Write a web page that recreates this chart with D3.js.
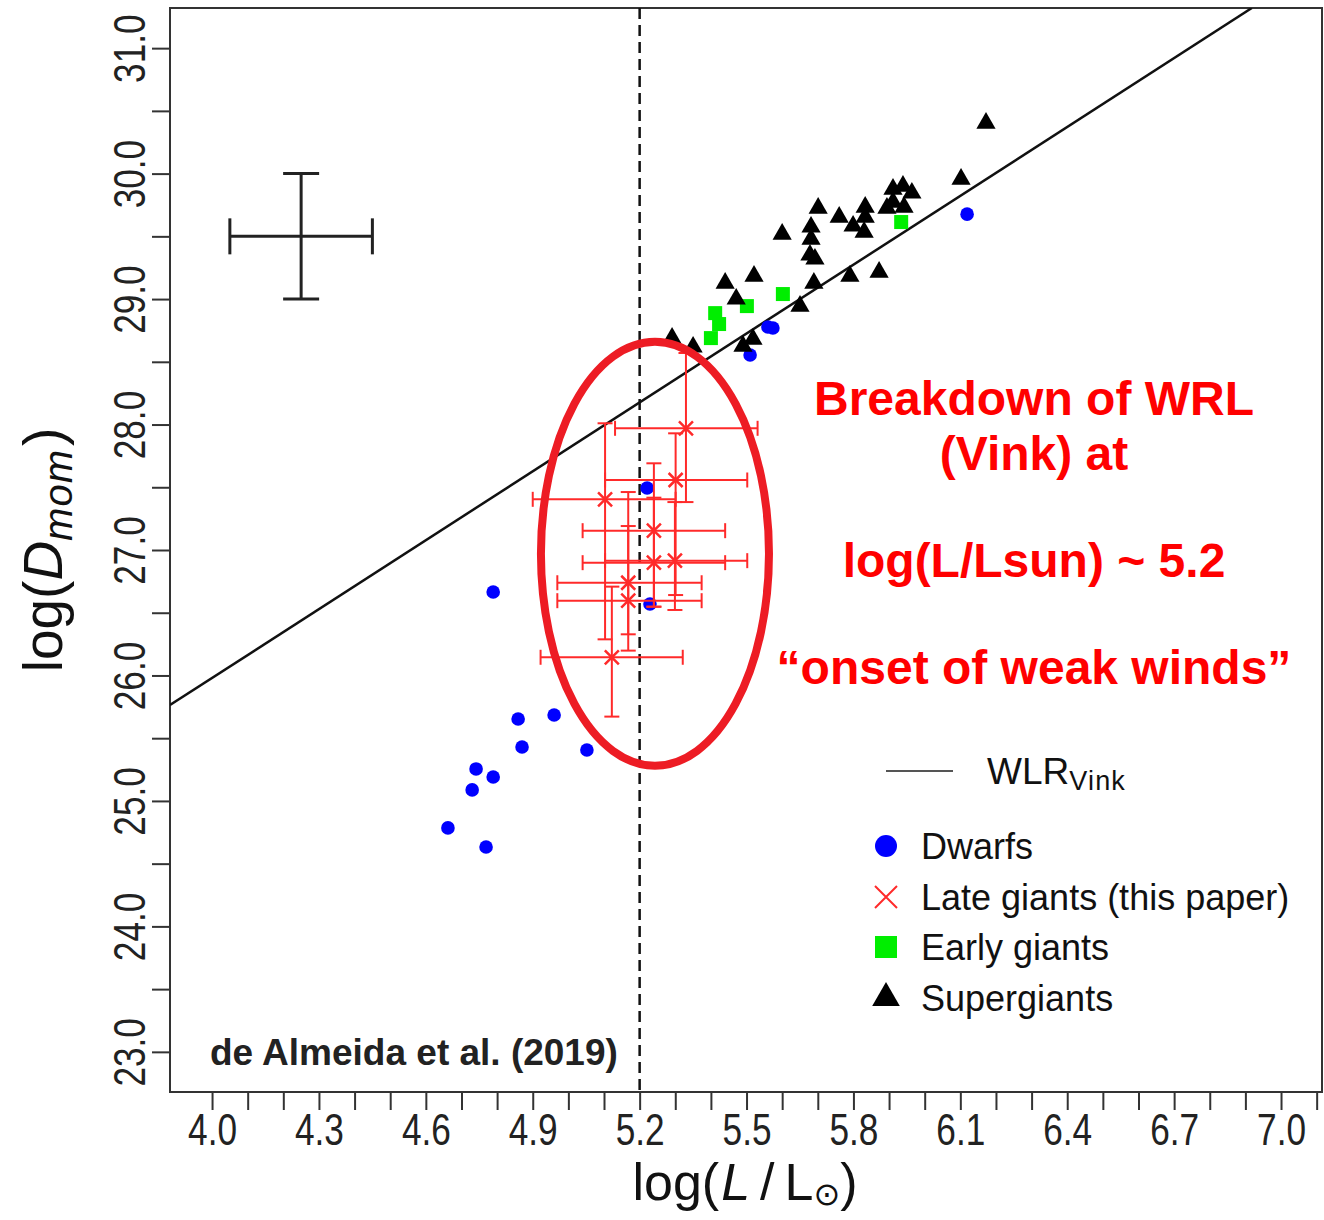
<!DOCTYPE html>
<html>
<head>
<meta charset="utf-8">
<script src="https://cdn.jsdelivr.net/npm/d3@7"></script>
<style>
  body { margin: 0; background: #fff; }
  svg { display: block; font-family: "Liberation Sans", Arial, sans-serif; }
</style>
</head>
<body>
<div id="chart"></div>
<script>
// Dwarfs (blue dots)
const dwarfsL = [4.662, 4.769, 4.730, 4.741, 4.789, 4.870, 4.859, 4.960, 5.052, 4.789, 5.221, 5.229, 5.510, 5.560, 5.574, 6.119];
const dwarfsD = [24.785, 24.633, 25.088, 25.255, 25.191, 25.430, 25.653, 25.685, 25.406, 26.665, 27.494, 26.570, 28.554, 28.777, 28.769, 29.677];

// Early giants (green squares)
const earlyL = [5.412, 5.423, 5.400, 5.501, 5.602, 5.934];
const earlyD = [28.888, 28.801, 28.689, 28.944, 29.040, 29.614];

// Supergiants (black triangles)
const superL = [6.172, 6.102, 5.911, 5.939, 5.964, 5.894, 5.911, 5.942, 5.833, 5.833, 5.799, 5.830, 5.760, 5.701, 5.681,
                5.681, 5.678, 5.692, 5.600, 5.689, 5.790, 5.872, 5.521, 5.440, 5.471, 5.650, 5.518, 5.490, 5.291, 5.350];
const superD = [30.402, 29.956, 29.876, 29.900, 29.845, 29.725, 29.773, 29.733, 29.733, 29.653, 29.582, 29.534, 29.653, 29.725, 29.574,
                29.478, 29.351, 29.319, 29.518, 29.127, 29.183, 29.215, 29.183, 29.127, 29.000, 28.944, 28.681, 28.625, 28.689, 28.618];

// Late giants (this paper), with error bars
const lateL   = [5.330, 5.301, 5.103, 5.240, 5.240, 5.299, 5.168, 5.168, 5.122];
const lateD   = [27.970, 27.558, 27.404, 27.154, 26.899, 26.915, 26.739, 26.596, 26.145];
const lateLlo = [5.131, 5.103, 4.900, 5.040, 5.040, 5.103, 4.969, 4.969, 4.922];
const lateLhi = [5.531, 5.502, 5.301, 5.440, 5.440, 5.502, 5.374, 5.374, 5.321];
const lateDlo = [27.382, 26.641, 26.288, 26.548, 26.548, 26.522, 26.328, 26.198, 25.672];
const lateDhi = [28.570, 27.930, 28.010, 27.691, 27.417, 27.382, 27.462, 27.191, 26.708];

// typical error bar (top left)
const typCenter = [4.25, 29.5];
const typL = [4.05, 4.45];
const typD = [29.0, 30.0];

// WLR (Vink): log Dmom = slope * log L + intercept
const wlrSlope = 1.83;
const wlrIntercept = 18.66;
const breakL = 5.2;

// ticks
const xTicks = d3.range(40, 72).map(v => v / 10);
const xLabels = ["4.0", "4.3", "4.6", "4.9", "5.2", "5.5", "5.8", "6.1", "6.4", "6.7", "7.0"];
const yTicks = d3.range(46, 63).map(v => v / 2);
const yLabels = ["23.0", "24.0", "25.0", "26.0", "27.0", "28.0", "29.0", "30.0", "31.0"];

const legendLabels = ["Dwarfs", "Late giants (this paper)", "Early giants", "Supergiants"];
const noteLines = ["Breakdown of WRL", "(Vink) at", "log(L/Lsun) ~ 5.2", "\u201Conset of weak winds\u201D"];

// ---- setup ----
const width = 1324, height = 1220;
const plot = { left: 170, top: 8, right: 1322, bottom: 1092 };

const svg = d3.select('#chart').append('svg')
  .attr('width', width)
  .attr('height', height);

svg.append('rect').attr('width', width).attr('height', height).attr('fill', '#fff');

const x = d3.scaleLinear().domain([3.882, 7.115]).range([plot.left, plot.right]);
const y = d3.scaleLinear().domain([22.68, 31.32]).range([plot.bottom, plot.top]);

svg.append('clipPath').attr('id', 'clip')
  .append('rect')
  .attr('x', plot.left).attr('y', plot.top)
  .attr('width', plot.right - plot.left).attr('height', plot.bottom - plot.top);

// axes
const xAxis = d3.axisBottom(x)
  .tickValues(xTicks)
  .tickSize(18)
  .tickFormat(d => {
    const s = d.toFixed(1);
    return xLabels.includes(s) ? s : '';
  });

const gx = svg.append('g')
  .attr('transform', `translate(0,${plot.bottom})`)
  .call(xAxis);
gx.select('.domain').remove();
gx.selectAll('line').attr('stroke', '#333').attr('stroke-width', 2);
gx.selectAll('text')
  .attr('y', 53).attr('dy', null)
  .attr('transform', 'scale(0.8,1)')
  .attr('font-size', 44)
  .attr('font-family', '"Liberation Sans", Arial, sans-serif')
  .attr('fill', '#222');

const yAxis = d3.axisLeft(y)
  .tickValues(yTicks)
  .tickSize(18)
  .tickFormat(d => {
    const s = d.toFixed(1);
    return yLabels.includes(s) ? s : '';
  });

const gy = svg.append('g')
  .attr('transform', `translate(${plot.left},0)`)
  .call(yAxis);
gy.select('.domain').remove();
gy.selectAll('line').attr('stroke', '#333').attr('stroke-width', 2);
gy.selectAll('text')
  .attr('x', 0).attr('y', -25).attr('dy', null)
  .attr('text-anchor', 'middle')
  .attr('transform', 'rotate(-90) scale(0.8,1)')
  .attr('font-size', 44)
  .attr('font-family', '"Liberation Sans", Arial, sans-serif')
  .attr('fill', '#222');

// plot box
svg.append('rect')
  .attr('x', plot.left).attr('y', plot.top)
  .attr('width', plot.right - plot.left).attr('height', plot.bottom - plot.top)
  .attr('fill', 'none').attr('stroke', '#333').attr('stroke-width', 2);

// axis titles
const xt = svg.append('text')
  .attr('x', 745).attr('y', 1200)
  .attr('text-anchor', 'middle')
  .attr('font-size', 52)
  .attr('fill', '#111');
xt.append('tspan').text('log(');
xt.append('tspan').attr('font-style', 'italic').attr('dx', 2).text('L');
xt.append('tspan').attr('dx', 10).text('/');
xt.append('tspan').attr('dx', 10).text('L');
xt.append('tspan').attr('font-size', 32).attr('dy', 5).attr('font-family', '"DejaVu Sans", sans-serif').text('\u2299');
xt.append('tspan').attr('dy', -5).text(')');

const yt = svg.append('text')
  .attr('transform', 'translate(62,550) rotate(-90)')
  .attr('text-anchor', 'middle')
  .attr('font-size', 55)
  .attr('fill', '#111');
yt.append('tspan').text('log(');
yt.append('tspan').attr('font-style', 'italic').text('D');
yt.append('tspan').attr('font-style', 'italic').attr('font-size', 40).attr('dy', 10).attr('letter-spacing', 1).text('mom');
yt.append('tspan').attr('dy', -10).attr('dx', 3).text(')');

const g = svg.append('g').attr('clip-path', 'url(#clip)');

// vertical dashed line at log L = 5.2
g.append('line')
  .attr('x1', x(breakL)).attr('x2', x(breakL))
  .attr('y1', plot.top).attr('y2', plot.bottom)
  .attr('stroke', '#111').attr('stroke-width', 2.5)
  .attr('stroke-dasharray', '11,6');

// WLR line
const wlrEnd = (y.domain()[1] - wlrIntercept) / wlrSlope;
g.append('path')
  .datum([x.domain()[0], wlrEnd])
  .attr('d', d3.line().x(d => x(d)).y(d => y(wlrSlope * d + wlrIntercept)))
  .attr('fill', 'none').attr('stroke', '#111').attr('stroke-width', 2.5);

// typical error bar
const typ = g.append('g').attr('stroke', '#222').attr('stroke-width', 3);
typ.append('line').attr('x1', x(typL[0])).attr('x2', x(typL[1])).attr('y1', y(typCenter[1])).attr('y2', y(typCenter[1]));
typ.append('line').attr('x1', x(typCenter[0])).attr('x2', x(typCenter[0])).attr('y1', y(typD[0])).attr('y2', y(typD[1]));
typL.forEach(v => typ.append('line').attr('x1', x(v)).attr('x2', x(v)).attr('y1', y(typCenter[1]) - 18).attr('y2', y(typCenter[1]) + 18));
typD.forEach(v => typ.append('line').attr('x1', x(typCenter[0]) - 18).attr('x2', x(typCenter[0]) + 18).attr('y1', y(v)).attr('y2', y(v)));

// dwarfs
g.selectAll('.dwarf')
  .data(dwarfsL.map((l, i) => [l, dwarfsD[i]]))
  .enter().append('circle')
  .attr('cx', d => x(d[0])).attr('cy', d => y(d[1]))
  .attr('r', 6.8).attr('fill', '#0000ff');

// early giants
const sq = 14;
g.selectAll('.early')
  .data(earlyL.map((l, i) => [l, earlyD[i]]))
  .enter().append('rect')
  .attr('x', d => x(d[0]) - sq / 2).attr('y', d => y(d[1]) - sq / 2)
  .attr('width', sq).attr('height', sq)
  .attr('fill', '#00ee00');

// supergiants
const tri = d3.symbol().type(d3.symbolTriangle).size(160);
g.selectAll('.super')
  .data(superL.map((l, i) => [l, superD[i]]))
  .enter().append('path')
  .attr('d', tri)
  .attr('transform', d => `translate(${x(d[0])},${y(d[1])})`)
  .attr('fill', '#000');

// late giants with error bars
const lateData = lateL.map((l, i) => ({ l, d: lateD[i], l0: lateLlo[i], l1: lateLhi[i], d0: lateDlo[i], d1: lateDhi[i] }));
const cap = 7.5;
const late = g.append('g').attr('stroke', '#ff2a2a').attr('stroke-width', 2).attr('fill', 'none');
lateData.forEach(p => {
  const cx = x(p.l), cy = y(p.d);
  late.append('line').attr('x1', x(p.l0)).attr('x2', x(p.l1)).attr('y1', cy).attr('y2', cy);
  late.append('line').attr('x1', x(p.l0)).attr('x2', x(p.l0)).attr('y1', cy - cap).attr('y2', cy + cap);
  late.append('line').attr('x1', x(p.l1)).attr('x2', x(p.l1)).attr('y1', cy - cap).attr('y2', cy + cap);
  late.append('line').attr('x1', cx).attr('x2', cx).attr('y1', y(p.d0)).attr('y2', y(p.d1));
  late.append('line').attr('x1', cx - cap).attr('x2', cx + cap).attr('y1', y(p.d0)).attr('y2', y(p.d0));
  late.append('line').attr('x1', cx - cap).attr('x2', cx + cap).attr('y1', y(p.d1)).attr('y2', y(p.d1));
  late.append('path')
    .attr('d', `M${cx - 7},${cy - 7}L${cx + 7},${cy + 7}M${cx - 7},${cy + 7}L${cx + 7},${cy - 7}`)
    .attr('stroke-width', 2.5);
});

// red ellipse annotation
g.append('ellipse')
  .attr('cx', x(5.243)).attr('cy', y(26.97))
  .attr('rx', x(5.243 + 0.32) - x(5.243))
  .attr('ry', y(26.97) - y(26.97 + 1.69))
  .attr('fill', 'none').attr('stroke', '#ed1c24').attr('stroke-width', 8);

// annotation text
const noteY = [415, 470, 577, 684];
svg.selectAll('.note')
  .data(noteLines)
  .enter().append('text')
  .attr('x', 1034).attr('y', (d, i) => noteY[i])
  .attr('text-anchor', 'middle')
  .attr('font-size', 48).attr('font-weight', 'bold')
  .attr('fill', '#ff0000')
  .text(d => d);

svg.append('text')
  .attr('x', 210).attr('y', 1065)
  .attr('font-size', 37).attr('font-weight', 'bold')
  .attr('fill', '#222')
  .text('de Almeida et al. (2019)');

// legend
const lg = svg.append('g');
lg.append('line').attr('x1', 886).attr('x2', 953).attr('y1', 771).attr('y2', 771)
  .attr('stroke', '#555').attr('stroke-width', 2);
const wl = lg.append('text').attr('x', 987).attr('y', 784).attr('font-size', 37).attr('fill', '#111');
wl.append('tspan').text('WLR');
wl.append('tspan').attr('font-size', 27).attr('dy', 6).attr('letter-spacing', 1.2).text('Vink');

const rowY = [846, 897, 947, 998];
const mx = 886;
lg.append('circle').attr('cx', mx).attr('cy', rowY[0]).attr('r', 11).attr('fill', '#0000ff');
lg.append('path')
  .attr('d', `M${mx - 11},${rowY[1] - 11}L${mx + 11},${rowY[1] + 11}M${mx - 11},${rowY[1] + 11}L${mx + 11},${rowY[1] - 11}`)
  .attr('stroke', '#ff2a2a').attr('stroke-width', 2);
lg.append('rect').attr('x', mx - 11).attr('y', rowY[2] - 11).attr('width', 22).attr('height', 22).attr('fill', '#00ee00');
lg.append('path').attr('d', d3.symbol().type(d3.symbolTriangle).size(330))
  .attr('transform', `translate(${mx},${rowY[3]})`).attr('fill', '#000');

lg.selectAll('.lab')
  .data(legendLabels)
  .enter().append('text')
  .attr('x', 921).attr('y', (d, i) => rowY[i])
  .attr('dy', '0.36em')
  .attr('font-size', 36).attr('fill', '#111')
  .text(d => d);
</script>
</body>
</html>
